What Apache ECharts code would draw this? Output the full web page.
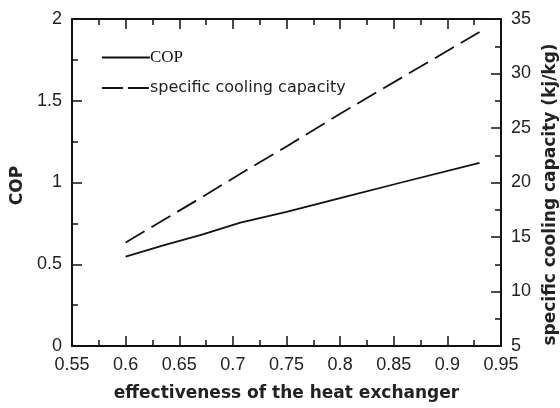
<!DOCTYPE html>
<html>
<head>
<meta charset="utf-8">
<script src="https://cdn.jsdelivr.net/npm/echarts@6/dist/echarts.min.js"></script>
<style>
  html, body { margin: 0; padding: 0; background: #fff; }
  #chart { width: 560px; height: 408px; }
</style>
</head>
<body>
<div id="chart"></div>
<script>
// values
var effectiveness = [0.6, 0.636, 0.672, 0.707, 0.75, 0.8, 0.857, 0.93];
var cop = [0.546, 0.617, 0.683, 0.755, 0.82, 0.905, 1.0, 1.12];
var capacity = [14.5, 16.6, 18.7, 20.8, 23.3, 26.3, 29.6, 33.8];

function pairs(xs, ys) {
  return xs.map(function (x, i) { return [x, ys[i]]; });
}

var font = 'Liberation Sans';
var axisLine = { lineStyle: { color: '#111', width: 2 } };
var tick = { inside: true, length: 10, lineStyle: { color: '#111', width: 1.5 } };
var minor = { show: true, splitNumber: 2, length: 6, lineStyle: { color: '#111', width: 1.5 } };
var label = { color: '#222', fontFamily: font, fontSize: 18, margin: 10 };
var title = { color: '#222', fontFamily: 'DejaVu Sans', fontSize: 17, fontWeight: 'bold' };

var chart = echarts.init(document.getElementById('chart'), null, { renderer: 'canvas' });

var option = {
  animation: false,
  backgroundColor: '#fff',
  grid: { left: 72, right: 59, top: 19, bottom: 62, outerBoundsMode: 'none' },
  legend: {
    orient: 'vertical',
    left: 96,
    top: 44,
    itemWidth: 48,
    itemHeight: 14,
    itemGap: 14,
    itemStyle: { opacity: 0 },
    data: [
      { name: 'COP', lineStyle: { type: 'solid', width: 1.8, color: '#111' } },
      { name: 'specific cooling capacity', lineStyle: { type: [21, 5], width: 1.8, color: '#111' } }
    ],
    formatter: function (name) {
      return name === 'COP' ? '{s|COP}' : '{a|' + name + '}';
    },
    textStyle: {
      padding: [0, 0, 0, -5],
      rich: {
        s: { fontFamily: 'Liberation Serif', fontSize: 17, color: '#111' },
        a: { fontFamily: 'DejaVu Sans', fontSize: 16, color: '#222' }
      }
    }
  },
  xAxis: [
    {
      type: 'value', min: 0.55, max: 0.95, interval: 0.05,
      name: 'effectiveness of the heat exchanger', nameLocation: 'middle', nameGap: 39,
      nameTextStyle: title,
      axisLine: axisLine, axisTick: tick, minorTick: minor,
      axisLabel: label, splitLine: { show: false }
    },
    {
      type: 'value', position: 'top', min: 0.55, max: 0.95, interval: 0.05,
      axisLine: axisLine, axisTick: tick, minorTick: minor,
      axisLabel: { show: false }, splitLine: { show: false }
    }
  ],
  yAxis: [
    {
      type: 'value', min: 0, max: 2, interval: 0.5,
      name: 'COP', nameLocation: 'middle', nameGap: 46, nameRotate: 90,
      nameTextStyle: Object.assign({}, title, { padding: [0, 6, 0, 0] }),
      axisLine: axisLine, axisTick: tick, minorTick: minor,
      axisLabel: label, splitLine: { show: false }
    },
    {
      type: 'value', position: 'right', min: 5, max: 35, interval: 5,
      name: 'specific cooling capacity (kj/kg)', nameLocation: 'middle', nameGap: 39, nameRotate: 90,
      nameTextStyle: Object.assign({}, title, { padding: [0, 24, 0, 0] }),
      axisLine: axisLine, axisTick: tick, minorTick: minor,
      axisLabel: label, splitLine: { show: false }
    }
  ],
  series: [
    {
      name: 'COP', type: 'line', yAxisIndex: 0,
      data: pairs(effectiveness, cop),
      showSymbol: false, symbol: 'none',
      lineStyle: { color: '#111', width: 1.8 },
      itemStyle: { color: '#111' }
    },
    {
      name: 'specific cooling capacity', type: 'line', yAxisIndex: 1,
      data: pairs(effectiveness, capacity),
      showSymbol: false, symbol: 'none',
      lineStyle: { color: '#111', width: 1.8, type: [22, 8] },
      itemStyle: { color: '#111' }
    }
  ]
};

chart.setOption(option);
</script>
</body>
</html>
